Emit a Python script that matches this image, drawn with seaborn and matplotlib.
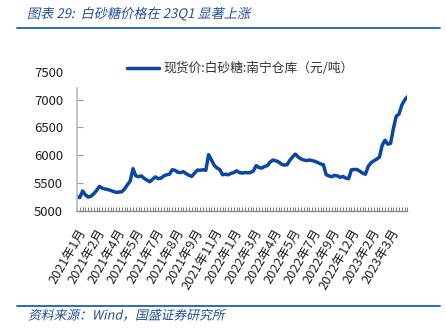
import numpy as np
import pandas as pd
import matplotlib
matplotlib.use('Agg')
import matplotlib.pyplot as plt
import seaborn as sns
from matplotlib.patheffects import AbstractPathEffect
from matplotlib.transforms import Affine2D
from matplotlib.lines import Line2D

# ---- data ----
prices = [
    5260, 5240, 5360, 5290, 5250, 5265, 5310, 5370, 5440, 5410,
    5395, 5385, 5370, 5350, 5335, 5340, 5345, 5395, 5470, 5540,
    5760, 5630, 5615, 5630, 5585, 5555, 5525, 5570, 5612, 5580,
    5590, 5630, 5650, 5660, 5740, 5730, 5695, 5690, 5705, 5670,
    5640, 5620, 5680, 5735, 5730, 5740, 5730, 6010, 5920, 5820,
    5770, 5745, 5650, 5660, 5650, 5675, 5690, 5720, 5690, 5680,
    5690, 5685, 5690, 5720, 5815, 5780, 5770, 5800, 5815, 5880,
    5915, 5900, 5880, 5840, 5825, 5830, 5910, 5970, 6020, 5970,
    5935, 5915, 5905, 5915, 5905, 5890, 5870, 5845, 5830, 5650,
    5630, 5615, 5640, 5630, 5605, 5620, 5590, 5580, 5740, 5745,
    5745, 5715, 5680, 5660, 5800, 5865, 5900, 5930, 5965, 6180,
    6270, 6200, 6215, 6480, 6700, 6740, 6900, 6990, 7050,
]
tick_labels = [
    "2021年1月", "2021年2月", "2021年4月", "2021年5月", "2021年7月",
    "2021年8月", "2021年9月", "2021年11月", "2022年1月", "2022年3月",
    "2022年4月", "2022年5月", "2022年7月", "2022年9月", "2022年12月",
    "2023年2月", "2023年3月",
]
label_step = 7
y_ticks = [5000, 5500, 6000, 6500, 7000, 7500]
series_name = "现货价:白砂糖:南宁仓库（元/吨）"
title_text = "图表 29:  白砂糖价格在 23Q1 显著上涨"
source_text = "资料来源：Wind，国盛证券研究所"


class Skew(AbstractPathEffect):
    """Fake italic: shear glyph paths about the text origin."""
    def __init__(self, k=0.2):
        super().__init__()
        self.k = k

    def draw_path(self, renderer, gc, tpath, affine, rgbFace=None):
        tx, ty = affine.transform((0, 0))
        sk = (Affine2D().translate(-tx, -ty)
              + Affine2D(np.array([[1.0, self.k, 0.0], [0.0, 1.0, 0.0], [0.0, 0.0, 1.0]]))
              + Affine2D().translate(tx, ty))
        renderer.draw_path(gc, tpath, affine + sk, rgbFace)


sns.set_theme(style='white')
plt.rcParams['font.family'] = ['Noto Sans CJK SC', 'DejaVu Sans']
plt.rcParams['axes.unicode_minus'] = False

W, H = 446, 328
fig = plt.figure(figsize=(W / 100, H / 100), dpi=100)
fig.patch.set_facecolor('white')
ax = fig.add_axes([77 / W, 1 - 211 / H, (407.4 - 77) / W, (211 - 71.7) / H])
ax.set_facecolor('white')

df = pd.DataFrame({'idx': np.arange(len(prices)), 'price': prices})
sns.lineplot(data=df, x='idx', y='price', ax=ax, color='#0B479E',
             linewidth=2.5, label=series_name)

ax.set_xlim(0, len(prices) - 1)
ax.set_ylim(5000, 7500)
ax.set_xlabel('')
ax.set_ylabel('')

# y axis
ax.set_yticks(y_ticks)
ax.set_yticklabels([str(v) for v in y_ticks], fontsize=9.5, color='#222222')
ax.tick_params(axis='y', which='major', direction='in', length=4, width=0.8,
               color='#999999', pad=10, left=True)
ax.yaxis.get_major_ticks()[-1].tick1line.set_visible(False)

# x axis
major_pos = list(range(0, label_step * len(tick_labels), label_step))
ax.set_xticks(major_pos)
ax.set_xticklabels(tick_labels, rotation=60, ha='right', va='top',
                   rotation_mode='anchor', fontsize=9.2, color='#222222')
ax.set_xticks(range(len(prices)), minor=True)
ax.tick_params(axis='x', which='both', direction='in', length=3.2, width=0.7,
               color='#777777', bottom=True, pad=11)

for s in ['top', 'right']:
    ax.spines[s].set_visible(False)
ax.spines['left'].set_color('#BBBBBB')
ax.spines['left'].set_linewidth(1.2)
ax.spines['left'].set_bounds(5000, 7200)
ax.spines['bottom'].set_color('#888888')
ax.spines['bottom'].set_linewidth(1.0)

leg = ax.legend(loc='center left', bbox_to_anchor=(0.15, 1.02), frameon=False,
                fontsize=9.2, handlelength=2.5, handletextpad=0.4,
                borderpad=0, borderaxespad=0)
for t in leg.get_texts():
    t.set_color('#333333')

# header / footer
fig.text(27 / W, 1 - 14 / H, title_text, fontsize=9.5, color='#1F4E9A',
         ha='left', va='center', path_effects=[Skew(0.22)])
fig.add_artist(Line2D([17 / W, 440 / W], [1 - 28 / H] * 2, color='#1F5FAF',
                      lw=1.3, transform=fig.transFigure))
fig.add_artist(Line2D([17 / W, 440 / W], [1 - 306 / H] * 2, color='#1F5FAF',
                      lw=1.3, transform=fig.transFigure))
fig.text(28 / W, 1 - 316 / H, source_text, fontsize=9.2, color='#1F4E9A',
         ha='left', va='center', path_effects=[Skew(0.22)])

fig.savefig('out.png', dpi=100, facecolor='white')
